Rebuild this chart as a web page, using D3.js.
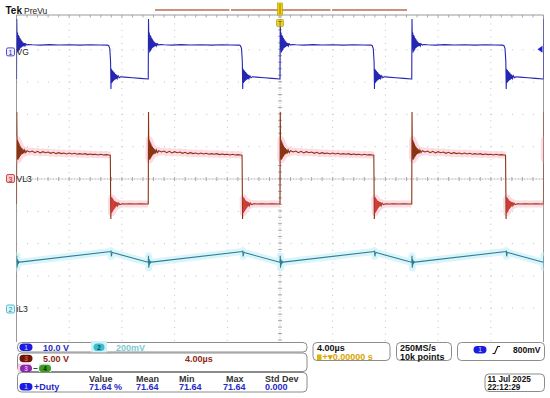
<!DOCTYPE html>
<html><head><meta charset="utf-8">
<script src="https://cdn.jsdelivr.net/npm/d3@7"></script>
<style>body{margin:0;background:#fff}svg{display:block}</style>
</head><body>
<svg id="c" width="550" height="398"></svg>
<script>
// ---------- data ----------
const timeDomain = [-20, 20];          // µs, 4.00 µs/div, 10 divisions
const timeTicks = [-20,-16,-12,-8,-4,0,4,8,12,16,20];
const divTicks = [-5,-4,-3,-2,-1,0,1,2,3,4,5];
const periodStarts = [-20, -10, 0, 10, 20];   // rising edges of VG, µs

// channel settings: volts/div and ground position (div)
const chNames = ["VG", "iL3", "VL3"];
const chScale = [10, 0.2, 5];
const chPos = [3.92, -4.04, 0];

// CH1 VG, one period from rising edge (µs, V)
const vgT = [0,0.02,0.05,0.08,0.11,0.14,0.17,0.20,0.23,0.26,0.29,0.32,0.35,0.38,0.41,0.44,0.47,0.50,0.55,0.60,0.65,0.70,0.80,0.90,1.2,1.8,2.5,3.2,4.0,4.8,5.6,6.3,6.9,7.0,7.08,7.14,7.17,7.20,7.23,7.26,7.29,7.32,7.35,7.38,7.41,7.44,7.48,7.52,7.56,7.60,7.65,7.72,7.80,7.90,8.2,8.8,9.4,9.98];
const vgV = [-8.4,10.2,0.8,6.0,-0.2,5.2,0.3,4.8,0.7,4.3,1.1,3.9,1.3,3.5,1.5,3.2,1.7,2.9,1.8,2.7,1.9,2.5,2.1,2.3,2.2,2.1,2.25,2.15,2.2,2.1,2.2,2.15,2.1,1.9,1.0,-3.0,-11.5,-5.2,-9.6,-5.6,-9.3,-5.9,-9.0,-6.2,-8.8,-6.5,-8.6,-6.9,-8.4,-7.1,-8.2,-7.4,-8.0,-7.7,-7.8,-8.0,-8.2,-8.4];

// CH3 VL3, one period from rising edge (µs, V)
const vlT = [0,0.02,0.05,0.08,0.11,0.14,0.17,0.20,0.23,0.26,0.29,0.32,0.36,0.40,0.45,0.50,0.56,0.62,0.70,0.80,1.0,1.2,1.4,1.6,1.8,2.0,2.2,2.4,2.6,2.8,3.0,3.2,3.4,3.6,3.8,4.0,4.2,4.4,4.6,4.8,5.0,5.2,5.4,5.6,5.8,6.0,6.2,6.4,6.6,6.8,7.0,7.12,7.16,7.19,7.22,7.25,7.28,7.31,7.34,7.37,7.40,7.44,7.48,7.52,7.57,7.62,7.68,7.75,7.85,8.0,8.3,8.6,9.0,9.4,9.8,9.98];
const vlV = [-3.95,10.3,3.0,6.0,2.9,5.7,3.1,5.4,3.3,5.1,3.5,4.9,3.7,4.7,3.8,4.5,3.9,4.4,4.0,4.3,4.1,4.25,4.0,4.2,3.95,4.15,4.0,4.1,3.9,4.05,3.85,4.0,3.85,3.95,3.8,3.95,3.8,3.9,3.75,3.85,3.75,3.85,3.7,3.8,3.7,3.75,3.65,3.75,3.65,3.7,3.65,3.6,-6.27,-2.9,-5.3,-3.0,-5.1,-3.2,-4.9,-3.4,-4.7,-3.5,-4.5,-3.6,-4.3,-3.7,-4.2,-3.8,-4.05,-3.9,-3.95,-3.9,-3.95,-3.9,-3.95,-3.95];
const vlHalo = [[0.04, 7.12], [7.18, 9.98]];
const vlRing = [[7.17, 7.9]];

// CH2 iL3, one period from rising edge (µs, V)
const ilT = [0,0.02,0.04,0.06,0.08,0.10,0.13,0.17,0.25,7.16,7.18,7.20,7.24,7.30,7.36,9.98];
const ilV = [0.289,0.33,0.255,0.31,0.27,0.30,0.28,0.295,0.290,0.356,0.362,0.326,0.345,0.350,0.348,0.289];

// readout texts
const ch1Readout = "10.0 V", ch2Readout = "200mV", ch3Readout = "5.00 V", mathReadout = "4.00µs";
const measHeaders = ["Value", "Mean", "Min", "Max", "Std Dev"];
const measValues = ["71.64 %", "71.64", "71.64", "71.64", "0.000"];
const measName = "+Duty";
const timebase = "4.00µs", hPos = "+\u25BE0.00000 s", sampleRate = "250MS/s", recLen = "10k points";
const trigLevel = "800mV", dateStr = "11 Jul  2025", timeStr = "22:12:29";

// ---------- drawing ----------
const svg = d3.select("#c");
const L = 16.5, R = 543.5, T = 17, B = 340;
const x = d3.scaleLinear().domain(timeDomain).range([L, R]);
const yd = d3.scaleLinear().domain([-5, 5]).range([B, T]);
const chY = (ch, v) => yd(chPos[ch] + v / chScale[ch]);
const FONT = "Liberation Sans, Arial, sans-serif";

svg.append("clipPath").attr("id","plot").append("rect").attr("x",L).attr("y",14).attr("width",R-L).attr("height",328);

// grid
const g = svg.append("g");
const vx = timeTicks.filter(t => t > timeDomain[0] && t < timeDomain[1]);
g.selectAll(".vg").data(vx).enter().append("line")
  .attr("x1", d => x(d)).attr("x2", d => x(d)).attr("y1", yd(5)).attr("y2", 341)
  .attr("stroke", d => d === 0 ? "#b8b8b8" : "#c0c0c0").attr("stroke-width", 1)
  .attr("stroke-dasharray", d => d === 0 ? "1,1.6" : "1,5.46");
const hy = divTicks.filter(d => d > -5 && d < 5);
g.selectAll(".hg").data(hy).enter().append("line")
  .attr("y1", d => yd(d)+0.5).attr("y2", d => yd(d)+0.5).attr("x1", L).attr("x2", R)
  .attr("stroke", d => d === 0 ? "#b0b0b0" : "#c0c0c0").attr("stroke-width", 1)
  .attr("stroke-dasharray", d => d === 0 ? "2,1" : "1,9.54");
const minorX = d3.range(timeDomain[0], timeDomain[1] + 0.01, 0.8);
g.selectAll(".mt").data(minorX).enter().append("line")
  .attr("x1", d => x(d)).attr("x2", d => x(d)).attr("y1", yd(0)-1.5).attr("y2", yd(0)+2.5)
  .attr("stroke", "#aaa");
g.selectAll(".mt2").data(minorX).enter().append("line")
  .attr("x1", d => x(d)).attr("x2", d => x(d)).attr("y1", 15).attr("y2", 17.5)
  .attr("stroke", "#aaa");
const minorY = d3.range(-5, 5.01, 0.2);
g.selectAll(".mt3").data(minorY).enter().append("line")
  .attr("y1", d => yd(d)).attr("y2", d => yd(d)).attr("x1", x(0)-2).attr("x2", x(0)+2)
  .attr("stroke", "#aaa");
g.append("path").attr("d", `M${L},342V15H${R}V342`).attr("fill","none").attr("stroke","#9a9a9a");

// waveforms
function buildPts(tArr, vArr, ch) {
  const pts = [];
  periodStarts.forEach(p => tArr.forEach((t, i) => pts.push([p + t, vArr[i], ch])));
  return pts;
}
function segPts(tArr, vArr, ch, p, r) {
  return tArr.map((t,i)=>[p+t, vArr[i], ch]).filter(d => d[0] >= p + r[0] && d[0] <= p + r[1]);
}
const line = d3.line().x(d => x(d[0])).y(d => chY(d[2], d[1]));
const wg = svg.append("g").attr("clip-path", "url(#plot)");

const il = buildPts(ilT, ilV, 1);
wg.append("path").attr("d", line(il)).attr("fill","none").attr("stroke","#d2f3f8").attr("stroke-width",7).attr("stroke-linejoin","round").attr("opacity",0.85);
wg.append("path").attr("d", line(il)).attr("fill","none").attr("stroke","#2f7d96").attr("stroke-width",1.1);

periodStarts.forEach(p => vlHalo.forEach(r => {
  wg.append("path").attr("d", line(segPts(vlT, vlV, 2, p, r))).attr("fill","none")
    .attr("stroke","#fcdbe4").attr("stroke-width",7).attr("stroke-linejoin","round").attr("stroke-linecap","butt");
}));
const vl = buildPts(vlT, vlV, 2);
wg.append("path").attr("d", line(vl)).attr("fill","none").attr("stroke","#8a3414").attr("stroke-width",1.1);
periodStarts.forEach(p => vlRing.forEach(r => {
  wg.append("path").attr("d", line(segPts(vlT, vlV, 2, p, r))).attr("fill","none").attr("stroke","#e04040").attr("stroke-width",0.8).attr("opacity",0.7);
}));

const vg = buildPts(vgT, vgV, 0);
wg.append("path").attr("d", line(vg)).attr("fill","none").attr("stroke","#2626b4").attr("stroke-width",1.1);

// channel markers on the left
function marker(ch, num, label, stroke, fill, tcol) {
  const yy = chY(ch, 0);
  const m = svg.append("g");
  m.append("rect").attr("x",6.5).attr("y",yy-4).attr("width",8).attr("height",8).attr("rx",1.5)
    .attr("fill",fill).attr("stroke",stroke).attr("stroke-width",0.9);
  m.append("text").attr("x",10.5).attr("y",yy+3).attr("text-anchor","middle").attr("font-family",FONT)
    .attr("font-size",7).attr("fill",tcol).text(num);
  m.append("text").attr("x",16.5).attr("y",yy+3.5).attr("font-family",FONT).attr("font-size",8.5)
    .attr("fill","#222").text(label);
}
marker(0, "1", chNames[0], "#3a3ac8", "#eef", "#2a2ab0");
marker(2, "3", chNames[2], "#c04040", "#f8c8c8", "#b02020");
marker(1, "2", chNames[1], "#40b8d0", "#d8f6fa", "#2a8aa0");

// trigger level arrow (right)
const tl = chY(0, 0.8);
svg.append("path").attr("d",`M${R-6},${tl}l5,-3.5v7z`).attr("fill","#2020d0");

// header
svg.append("text").attr("x",5.5).attr("y",14).attr("font-family",FONT).attr("font-weight","bold").attr("font-size",10).attr("fill","#111").text("Tek");
svg.append("text").attr("x",24).attr("y",13.5).attr("font-family",FONT).attr("font-size",8.5).attr("fill","#222").text("PreVu");
[[155,229.5],[231,330.5],[332,407]].forEach(s => svg.append("line").attr("x1",s[0]).attr("x2",s[1]).attr("y1",10).attr("y2",10).attr("stroke","#c8927e").attr("stroke-width",2));
svg.append("rect").attr("x",x(0)-2.5).attr("y",3).attr("width",5).attr("height",12).attr("fill","#f2d600").attr("stroke","#b09000").attr("stroke-width",0.6);
svg.append("line").attr("x1",x(0)).attr("x2",x(0)).attr("y1",4).attr("y2",14).attr("stroke","#7a6a00").attr("stroke-width",0.8);
svg.append("rect").attr("x",x(0)-3.5).attr("y",19.5).attr("width",7).attr("height",7).attr("rx",1).attr("fill","#e8d030").attr("stroke","#a89000").attr("stroke-width",0.6);
svg.append("text").attr("x",x(0)).attr("y",25.5).attr("text-anchor","middle").attr("font-family",FONT).attr("font-size",6.5).attr("fill","#5a4a00").text("T");

// readout panels
const rp = svg.append("g").attr("font-family",FONT).attr("font-size",9).attr("font-weight","bold");
function box(x0,y0,w,h){ rp.append("rect").attr("x",x0).attr("y",y0).attr("width",w).attr("height",h).attr("rx",4).attr("fill","#fff").attr("stroke","#8c8c8c").attr("stroke-width",1); }
function pill(cx,cy,fill,label,tcol,w){ w = w||12; rp.append("rect").attr("x",cx-w/2).attr("y",cy-3.7).attr("width",w).attr("height",7.4).attr("rx",3.7).attr("fill",fill);
  rp.append("text").attr("x",cx).attr("y",cy+2.4).attr("text-anchor","middle").attr("font-size",6.5).attr("fill",tcol).text(label); }
function txt(x0,y0,s,col,fs){ const t = rp.append("text").attr("x",x0).attr("y",y0).attr("fill",col).text(s); if (fs) t.attr("font-size",fs); return t; }

box(17.5,342.5,289.5,9.5);
pill(26,347.3,"#1c1ce0","1","#9fa8ff",13);
txt(43,350.8,ch1Readout,"#1f2ac4");
rp.append("rect").attr("x",91).attr("y",341).attr("width",16).attr("height",12).attr("fill","#cdf2f6");
pill(99,347.3,"#3bbfd0","2","#0e4b58",11);
txt(116,350.8,ch2Readout,"#7dc9d6");

box(17.5,353,289.5,18.5);
pill(26,358.5,"#6a180c","3","#e05040",13);
txt(43,362,ch3Readout,"#8c2a1a");
txt(185,362,mathReadout,"#8c2a1a");
rp.append("rect").attr("x",18).attr("y",363.5).attr("width",13).attr("height",9).attr("fill","#f6cfe0");
pill(26,368.5,"#8a2aaa","3","#e0b0f0",12);
rp.append("line").attr("x1",33.5).attr("x2",37.5).attr("y1",368.5).attr("y2",368.5).attr("stroke","#444").attr("stroke-width",1);
rp.append("rect").attr("x",39).attr("y",363.5).attr("width",12).attr("height",9).attr("fill","#cdf2f6");
pill(45,368.5,"#3e9a1c","4","#0a2a00",12);

box(17.5,372.5,289.5,19.5);
const colX = [89,136,179,226,265];
const valX = [89,136,179,223,265];
measHeaders.forEach((h,i)=>txt(colX[i],381.5,h,"#333"));
pill(26,386.7,"#1c1ce0","1","#9fa8ff",13);
txt(34,390,measName,"#1f2ac4");
measValues.forEach((v,i)=>txt(valX[i],390,v,"#1f2ac4"));

box(313,342.5,77,18);
txt(317,351.3,timebase,"#111");
rp.append("rect").attr("x",317).attr("y",354.5).attr("width",4.5).attr("height",5.5).attr("fill","#e0b400");
txt(322.5,360,hPos,"#d9a300");

box(396.5,342.5,55,18);
txt(400,351.3,sampleRate,"#111");
txt(400,360,recLen,"#111");

box(457.5,342.5,87,18);
pill(480,349.7,"#1c1ce0","1","#9fa8ff",13);
rp.append("path").attr("d","M492.5,353.5h2.2l3,-7h2.3").attr("fill","none").attr("stroke","#111").attr("stroke-width",1.1);
txt(513,352.8,trigLevel,"#111",8.5);

box(485,374,59.5,17.5);
txt(487.5,382,dateStr,"#111",8.2);
txt(487.5,390.3,timeStr,"#111",8.2);
</script>
</body></html>
